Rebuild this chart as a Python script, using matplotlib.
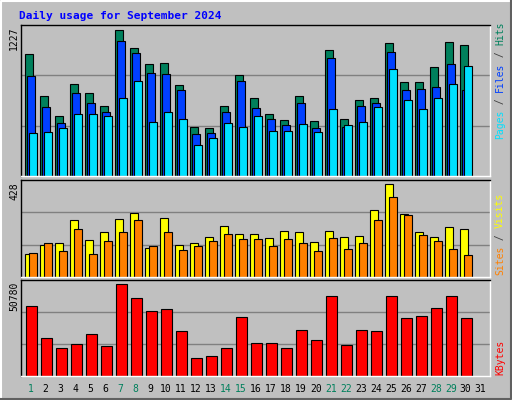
import numpy as np
import matplotlib.pyplot as plt
from matplotlib.lines import Line2D

days = np.arange(1, 31)
hits = [1026, 667, 499, 775, 692, 591, 1227, 1077, 943, 951, 767, 407, 399, 591, 851,
        658, 524, 466, 667, 457, 1060, 482, 641, 650, 1118, 784, 792, 918, 1127, 1102]
files = [842, 575, 441, 700, 616, 533, 1135, 1035, 867, 859, 725, 349, 357, 533, 800,
         566, 474, 424, 608, 399, 993, 407, 591, 608, 1043, 725, 733, 750, 943, 717]
pages = [357, 365, 399, 524, 524, 499, 658, 800, 449, 533, 474, 257, 315, 441, 407,
         499, 374, 374, 432, 365, 558, 424, 449, 575, 901, 641, 558, 650, 775, 926]
visits = [107, 149, 158, 261, 172, 209, 265, 293, 135, 270, 149, 158, 186, 233, 200,
          200, 181, 214, 209, 163, 214, 186, 191, 307, 428, 288, 205, 186, 228, 223]
sites = [112, 158, 121, 223, 107, 168, 205, 261, 144, 205, 126, 144, 168, 200, 177,
         177, 144, 177, 158, 121, 181, 130, 158, 261, 368, 284, 195, 168, 130, 102]
kbytes = [38502, 21204, 15624, 17856, 23436, 16740, 50780, 42966, 35712, 36828, 25110,
          10044, 11160, 15624, 32364, 18414, 18414, 15624, 25668, 20088, 44082, 17298,
          25668, 25110, 44082, 31806, 32922, 37386, 44082, 31806]
weekend = [1, 7, 8, 14, 15, 21, 22, 28, 29]

GRAY = '#C0C0C0'
W, H = 512, 400
fig = plt.figure(figsize=(W / 100, H / 100), dpi=100, facecolor=GRAY)
MONO = 'DejaVu Sans Mono'

def px_axes(x0, y0, x1, y1):
    return fig.add_axes([x0 / W, 1 - y1 / H, (x1 - x0) / W, (y1 - y0) / H])

def fig_line(xs, ys, color, lw=1):
    fig.add_artist(Line2D([x / W for x in xs], [1 - y / H for y in ys],
                          color=color, lw=lw, transform=fig.transFigure))

# outer bevel
fig_line([1, 1, W - 1], [H - 1, 1, 1], 'white', 1.5)
fig_line([1, W - 1, W - 1], [H - 1, H - 1, 1], '#606060', 1.5)

xl = (0.693, 31.98)

def panel(y0, y1, top, label):
    ax = px_axes(20.7, y0, 490, y1)
    ax.set_facecolor(GRAY)
    ax.set_xlim(*xl)
    ax.set_ylim(0, top)
    for g in (top / 3, 2 * top / 3):
        ax.axhline(g, color='#808080', lw=1, zorder=0)
    ax.set_xticks([])
    ax.set_yticks([])
    for s in ('left', 'top'):
        ax.spines[s].set_color('black')
    for s in ('right', 'bottom'):
        ax.spines[s].set_color('white')
    for s in ax.spines.values():
        s.set_linewidth(1)
    fig.text(14 / W, 1 - (y0 + 2) / H, label, rotation=90, ha='center',
             va='top', family=MONO, fontsize=7, color='black')
    return ax

kw = dict(align='edge', edgecolor='black', linewidth=0.8)

ax1 = panel(25, 176, 1227 * 454 / 440, '1227')
ax1.bar(days, hits, width=0.49, color='#00805C', **kw)
ax1.bar(days + 0.133, files, width=0.49, color='#0040FF', **kw)
ax1.bar(days + 0.267, pages, width=0.49, color='#00E0FF', **kw)

ax2 = panel(180, 277, 428 * 288 / 276, '428')
ax2.bar(days, visits, width=0.49, color='#FFFF00', **kw)
ax2.bar(days + 0.267, sites, width=0.49, color='#FF8000', **kw)

ax3 = panel(280, 376, 50780 * 285 / 273, '50780')
ax3.bar(days + 0.067, kbytes, width=0.69, color='#FF0000', **kw)

# right-side legends, stacked bottom to top
def vlegend(y_bottom, parts):
    y = y_bottom
    for txt, col in parts:
        fig.text(500 / W, 1 - y / H, txt, rotation=90, ha='center', va='bottom',
                 family=MONO, fontsize=7, color=col)
        y -= len(txt) * 5.85

vlegend(139, [('Pages', '#00E0FF'), (' / ', '#404040'), ('Files', '#0040FF'),
              (' / ', '#404040'), ('Hits', '#00805C')])
vlegend(275, [('Sites', '#FF8000'), (' / ', '#404040'), ('Visits', '#FFFF00')])
vlegend(375, [('KBytes', '#FF0000')])

# day labels
for d in range(1, 32):
    x = 20.7 + (d + 0.36 - xl[0]) / (xl[1] - xl[0]) * (490 - 20.7)
    fig.text(x / W, 1 - 389 / H, str(d), ha='center', va='center', family=MONO,
             fontsize=7, color='#00805C' if d in weekend else 'black')

fig.text(19 / W, 1 - 16 / H, 'Daily usage for September 2024', ha='left', va='center',
         family=MONO, fontsize=8, fontweight='bold', color='#0000FF')

fig.savefig('out.png', dpi=100, facecolor=GRAY)
